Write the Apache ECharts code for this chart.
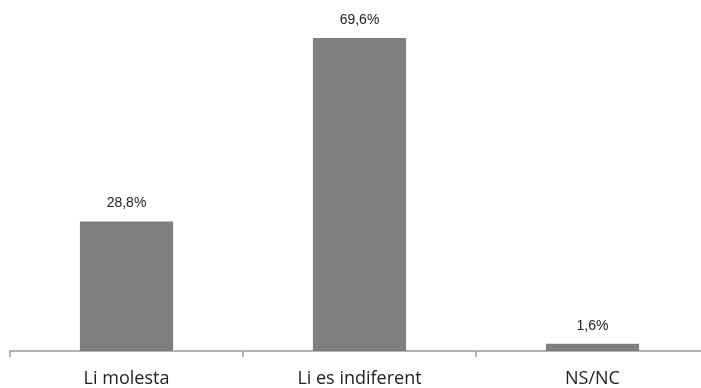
<!DOCTYPE html>
<html><head><meta charset="utf-8">
<script src="https://cdn.jsdelivr.net/npm/echarts@6/dist/echarts.min.js"></script>
<style>html,body{margin:0;padding:0;background:#fff;overflow:hidden}#c{width:709px;height:388px}</style>
</head><body><div id="c"></div>
<script>
const categories = ['Li molesta', 'Li es indiferent', 'NS/NC'];
const values = [28.8, 69.6, 1.6];
const chart = echarts.init(document.getElementById('c'), null, {renderer: 'canvas'});
chart.setOption({
  animation: false,
  grid: {left: 10, top: 38, bottom: 36, right: 0, containLabel: false},
  xAxis: {
    type: 'category', data: categories,
    axisLine: {lineStyle: {color: '#9a9a9a', width: 1.5}},
    axisTick: {show: true, alignWithLabel: false, length: 6, lineStyle: {color: '#9a9a9a', width: 1.5}},
    axisLabel: {color: '#222', fontSize: 18, fontFamily: 'Open Sans', margin: 19}
  },
  yAxis: {type: 'value', min: 0, max: 'dataMax', show: false, splitLine: {show: false}},
  series: [{
    type: 'bar', data: values, barWidth: '40%',
    itemStyle: {color: '#7f7f7f'},
    label: {show: true, position: 'top', distance: 11, color: '#222', fontSize: 14, fontFamily: 'Liberation Sans',
      formatter: p => p.value.toFixed(1).replace('.', ',') + '%'}
  }]
});
</script></body></html>
